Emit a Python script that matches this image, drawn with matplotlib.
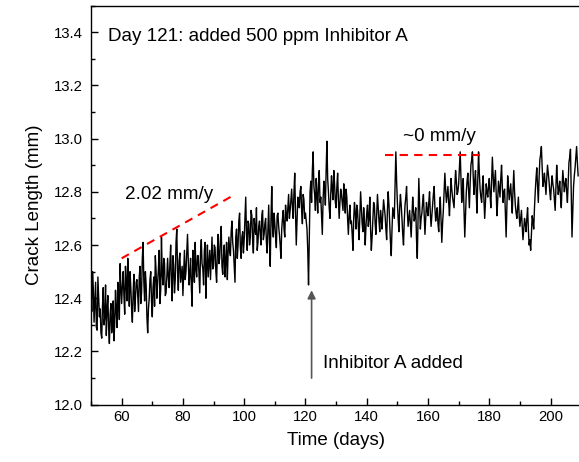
import numpy as np
import matplotlib
matplotlib.use("Agg")
import matplotlib.pyplot as plt
from matplotlib.ticker import MultipleLocator

plt.rcParams['font.family'] = ['Liberation Sans', 'DejaVu Sans']

# ---- data ----
t_start = 50.0
t_step = 0.5
# samples on the half-day grid
crack_mm = [
    12.42, 12.50, 12.31, 12.46, 12.28, 12.40, 12.36, 12.25, 12.44, 12.33,
    12.26, 12.41, 12.23, 12.38, 12.30, 12.24, 12.43, 12.29, 12.40, 12.53,
    12.38, 12.50, 12.34, 12.46, 12.55, 12.37, 12.44, 12.31, 12.49, 12.40,
    12.47, 12.35, 12.52, 12.42, 12.61, 12.39, 12.45, 12.27, 12.40, 12.50,
    12.33, 12.48, 12.56, 12.40, 12.51, 12.38, 12.63, 12.45, 12.53, 12.42,
    12.55, 12.44, 12.60, 12.39, 12.52, 12.47, 12.66, 12.43, 12.57, 12.49,
    12.41, 12.58, 12.50, 12.64, 12.45, 12.55, 12.37, 12.53, 12.61, 12.48,
    12.56, 12.42, 12.62, 12.51, 12.58, 12.40, 12.60, 12.53, 12.47, 12.63,
    12.52, 12.59, 12.46, 12.64, 12.55, 12.67, 12.49, 12.60, 12.54, 12.47,
    12.63, 12.56, 12.69, 12.58, 12.46, 12.66, 12.60, 12.72, 12.55, 12.65,
    12.62, 12.78, 12.58, 12.68, 12.63, 12.71, 12.57, 12.66, 12.74, 12.61,
    12.69, 12.60, 12.73, 12.64, 12.70, 12.57, 12.75, 12.52, 12.82, 12.63,
    12.68, 12.59, 12.72, 12.64, 12.55, 12.70, 12.66, 12.75, 12.69, 12.79,
    12.73, 12.81, 12.70, 12.87, 12.60, 12.78, 12.74, 12.82, 12.68, 12.77,
    12.72, 12.66, 12.45, 12.80, 12.76, 12.95, 12.79, 12.85, 12.72, 12.88,
    12.78, 12.64, 12.84, 12.75, 12.99, 12.80, 12.70, 12.86, 12.77, 12.83,
    12.74, 12.87, 12.70, 12.81, 12.76, 12.83, 12.72, 12.78, 12.64, 12.75,
    12.69, 12.58, 12.76, 12.66, 12.73, 12.62, 12.80, 12.68, 12.74, 12.60,
    12.72, 12.67, 12.78, 12.58, 12.70, 12.75, 12.64, 12.79, 12.69, 12.73,
    12.66, 12.77, 12.71, 12.62, 12.80, 12.68, 12.56, 12.74, 12.70, 12.95,
    12.76, 12.65, 12.79, 12.70, 12.60, 12.75, 12.82, 12.67, 12.73, 12.63,
    12.78, 12.69, 12.74, 12.55, 12.85, 12.66, 12.72, 12.79, 12.64, 12.76,
    12.71, 12.80, 12.67, 12.75, 12.82, 12.69, 12.74, 12.65, 12.78, 12.61,
    12.73, 12.87, 12.76, 12.82, 12.71, 12.85, 12.78, 12.74, 12.88, 12.79,
    12.83, 12.95, 12.76, 12.85, 12.63, 12.80, 12.87, 12.74, 12.90, 12.95,
    12.79, 12.88, 12.72, 12.95, 12.81, 12.76, 12.86, 12.70, 12.83, 12.78,
    12.85, 12.74, 12.93, 12.80, 12.88, 12.71, 12.84, 12.78, 12.90, 12.76,
    12.81, 12.63, 12.86, 12.77, 12.83, 12.72, 12.88, 12.75, 12.70, 12.78,
    12.67, 12.73, 12.62, 12.70, 12.65, 12.74, 12.60, 12.58, 12.71, 12.66,
    12.80, 12.89, 12.76, 12.92, 12.97, 12.82, 12.87, 12.79, 12.90, 12.84,
    12.77, 12.86, 12.81, 12.73, 12.90, 12.79, 12.84, 12.74, 12.88, 12.80,
    12.85, 12.76, 12.91, 12.96, 12.63, 12.82, 12.89, 12.97, 12.86,
]
# samples read between the half-day points (quarter-day offsets)
crack_mm_mid = [
    12.35, 12.44, 12.39, 12.29, 12.48, 12.33, 12.27, 12.37, 12.30, 12.45,
    12.36, 12.29, 12.34, 12.27, 12.39, 12.31, 12.35, 12.46, 12.32, 12.44,
    12.45, 12.41, 12.52, 12.39, 12.47, 12.50, 12.36, 12.42, 12.35, 12.46,
    12.41, 12.48, 12.38, 12.55, 12.46, 12.50, 12.33, 12.36, 12.47, 12.39,
    12.44, 12.37, 12.50, 12.46, 12.58, 12.43, 12.49, 12.55, 12.41, 12.48,
    12.48, 12.53, 12.46, 12.56, 12.42, 12.61, 12.50, 12.54, 12.46, 12.52,
    12.50, 12.47, 12.57, 12.54, 12.49, 12.44, 12.58, 12.46, 12.51, 12.56,
    12.49, 12.57, 12.53, 12.45, 12.61, 12.52, 12.48, 12.58, 12.55, 12.51,
    12.60, 12.50, 12.58, 12.53, 12.62, 12.52, 12.56, 12.48, 12.61, 12.57,
    12.58, 12.65, 12.61, 12.52, 12.63, 12.55, 12.69, 12.59, 12.63, 12.57,
    12.70, 12.64, 12.69, 12.60, 12.73, 12.62, 12.70, 12.64, 12.58, 12.67,
    12.64, 12.71, 12.62, 12.68, 12.61, 12.66, 12.62, 12.70, 12.67, 12.72,
    12.63, 12.71, 12.67, 12.60, 12.66, 12.73, 12.63, 12.71, 12.74, 12.70,
    12.77, 12.74, 12.80, 12.72, 12.69, 12.75, 12.80, 12.73, 12.79, 12.70,
    12.69, 12.58, 12.63, 12.84, 12.88, 12.82, 12.73, 12.79, 12.83, 12.76,
    12.71, 12.77, 12.81, 12.88, 12.85, 12.74, 12.79, 12.81, 12.88, 12.76,
    12.82, 12.77, 12.76, 12.79, 12.73, 12.77, 12.81, 12.70, 12.71, 12.68,
    12.64, 12.70, 12.72, 12.75, 12.67, 12.71, 12.74, 12.65, 12.69, 12.67,
    12.75, 12.70, 12.66, 12.63, 12.76, 12.68, 12.72, 12.74, 12.65, 12.70,
    12.72, 12.74, 12.66, 12.73, 12.75, 12.61, 12.66, 12.72, 12.82, 12.84,
    12.70, 12.74, 12.75, 12.64, 12.69, 12.78, 12.73, 12.70, 12.68, 12.71,
    12.73, 12.71, 12.62, 12.70, 12.75, 12.70, 12.76, 12.71, 12.70, 12.73,
    12.76, 12.72, 12.71, 12.79, 12.74, 12.72, 12.68, 12.73, 12.69, 12.68,
    12.80, 12.81, 12.79, 12.76, 12.78, 12.81, 12.76, 12.82, 12.84, 12.80,
    12.89, 12.85, 12.80, 12.73, 12.72, 12.84, 12.80, 12.83, 12.92, 12.86,
    12.84, 12.79, 12.85, 12.87, 12.78, 12.82, 12.77, 12.76, 12.80, 12.82,
    12.79, 12.84, 12.86, 12.84, 12.79, 12.77, 12.81, 12.85, 12.82, 12.80,
    12.72, 12.75, 12.82, 12.80, 12.77, 12.81, 12.80, 12.72, 12.74, 12.71,
    12.70, 12.67, 12.66, 12.68, 12.70, 12.66, 12.62, 12.64, 12.69, 12.74,
    12.85, 12.82, 12.85, 12.94, 12.89, 12.84, 12.83, 12.85, 12.87, 12.80,
    12.82, 12.83, 12.77, 12.82, 12.84, 12.81, 12.78, 12.82, 12.84, 12.83,
    12.80, 12.84, 12.93, 12.79, 12.73, 12.86, 12.93, 12.91,
]

# trend guide lines
trend1_x = [60, 97]
trend1_y = [12.55, 12.79]
trend2_x = [146, 177]
trend2_y = [12.94, 12.94]

# inhibitor event arrow
arrow_x = 122
arrow_tip_y = 12.43
arrow_base_y = 12.10

xlim = (50, 210)
ylim = (12.0, 13.5)

# merge the two sample sets in time order
t_main = t_start + t_step * np.arange(len(crack_mm))
t_mid = t_main[:-1] + t_step / 2
time_all = np.empty(len(t_main) + len(t_mid))
vals_all = np.empty_like(time_all)
time_all[0::2] = t_main
time_all[1::2] = t_mid
vals_all[0::2] = crack_mm
vals_all[1::2] = crack_mm_mid

# ---- figure ----
fig = plt.figure(figsize=(5.79, 4.62), dpi=100)
ax = fig.add_axes([91 / 579, 1 - 404.7 / 462, (581.2 - 91) / 579, (404.7 - 5.5) / 462])

ax.plot(time_all, vals_all, color='black', lw=1.0)
ax.plot(trend1_x, trend1_y, color='red', lw=1.5, dashes=(4, 3))
ax.plot(trend2_x, trend2_y, color='red', lw=1.5, dashes=(4, 3))

ax.annotate('', xy=(arrow_x, arrow_tip_y), xytext=(arrow_x, arrow_base_y),
            arrowprops=dict(arrowstyle='-|>', color='#555555', lw=1.2,
                            mutation_scale=12, shrinkA=0, shrinkB=0))

fs_note = 13.6
ax.text(55.6, 13.383, 'Day 121: added 500 ppm Inhibitor A', fontsize=fs_note,
        ha='left', va='center')
ax.text(61.1, 12.788, '2.02 mm/y', fontsize=fs_note, ha='left', va='center')
ax.text(151.8, 13.006, '~0 mm/y', fontsize=fs_note, ha='left', va='center')
ax.text(125.7, 12.154, 'Inhibitor A added', fontsize=fs_note, ha='left', va='center')

ax.set_xlim(*xlim)
ax.set_ylim(*ylim)
ax.xaxis.set_minor_locator(MultipleLocator(10))
ax.yaxis.set_minor_locator(MultipleLocator(0.1))
ax.set_xticks([60, 80, 100, 120, 140, 160, 180, 200])
ax.set_yticks([12.0, 12.2, 12.4, 12.6, 12.8, 13.0, 13.2, 13.4])
ax.set_yticklabels(['12.0', '12.2', '12.4', '12.6', '12.8', '13.0', '13.2', '13.4'])

ax.tick_params(which='both', direction='in', top=False, right=False, labelsize=10.7)
ax.tick_params(which='major', length=5, width=1)
ax.tick_params(which='minor', length=3, width=1)
ax.tick_params(axis='y', pad=6)
for s in ax.spines.values():
    s.set_linewidth(1.0)
ax.spines['right'].set_visible(False)

ax.set_xlabel('Time (days)', fontsize=13.5, labelpad=6)
ax.set_ylabel('Crack Length (mm)', fontsize=13.5, labelpad=8)

fig.savefig('out.png', dpi=100)
